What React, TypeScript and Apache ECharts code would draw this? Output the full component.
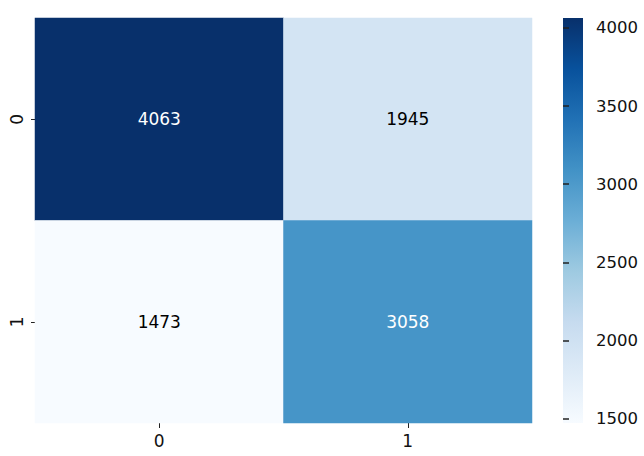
import React, { useEffect, useRef } from "react";
import * as echarts from "echarts";

const xCategories = ["0", "1"];
const yCategories = ["0", "1"];
// [xIndex, yIndex, value]
const cellValues: number[][] = [
  [0, 0, 4063],
  [1, 0, 1945],
  [0, 1, 1473],
  [1, 1, 3058],
];
const colorbarTicks = [1500, 2000, 2500, 3000, 3500, 4000];
const bluesPalette = [
  "#f7fbff",
  "#deebf7",
  "#c6dbef",
  "#9ecae1",
  "#6baed6",
  "#4292c6",
  "#2171b5",
  "#08519c",
  "#08306b",
];

const FONT = "DejaVu Sans";

export default function App() {
  const ref = useRef<HTMLDivElement>(null);
  useEffect(() => {
    if (!ref.current) return;
    const chart = echarts.init(ref.current, undefined, { renderer: "svg" });
    const vals = cellValues.map((d) => d[2]);
    const vmin = Math.min(...vals);
    const vmax = Math.max(...vals);

    const gridMain = { left: 35, right: 112, top: 18, bottom: 33 };
    const cbar = { left: 563, width: 20, top: 18, bottom: 33 };

    const data = cellValues.map((d) => {
      const t = (d[2] - vmin) / (vmax - vmin);
      return {
        value: d,
        label: { color: t > 0.5 ? "#ffffff" : "#000000" },
      };
    });

    const gradStops = bluesPalette
      .map((c, i) => ({ offset: 1 - i / (bluesPalette.length - 1), color: c }))
      .reverse();

    chart.setOption({
      animation: false,
      backgroundColor: "#ffffff",
      grid: [
        { ...gridMain, containLabel: false },
        {
          left: cbar.left,
          width: cbar.width,
          top: cbar.top,
          bottom: cbar.bottom,
          show: true,
          borderWidth: 0,
          backgroundColor: new echarts.graphic.LinearGradient(0, 0, 0, 1, gradStops),
        },
      ],
      xAxis: [
        {
          type: "category",
          data: xCategories,
          gridIndex: 0,
          axisLine: { show: false },
          axisTick: { show: true, length: 5, alignWithLabel: true, lineStyle: { color: "#222", width: 1 } },
          axisLabel: { fontFamily: FONT, fontSize: 17, color: "#111", margin: 9 },
          splitLine: { show: false },
        },
        {
          type: "value",
          gridIndex: 1,
          show: false,
        },
      ],
      yAxis: [
        {
          type: "category",
          data: yCategories,
          inverse: true,
          gridIndex: 0,
          axisLine: { show: false },
          axisTick: { show: true, length: 4, alignWithLabel: true, lineStyle: { color: "#222", width: 1 } },
          axisLabel: { fontFamily: FONT, fontSize: 17, color: "#111", rotate: 90, margin: 10 },
          splitLine: { show: false },
        },
        {
          type: "value",
          gridIndex: 1,
          position: "right",
          min: vmin,
          max: vmax,
          axisLine: { show: false },
          splitLine: { show: false },
          axisTick: {
            show: true,
            length: 6,
            customValues: colorbarTicks,
            lineStyle: { color: "#222", width: 1.5 },
          },
          axisLabel: {
            customValues: colorbarTicks,
            formatter: (v: number) => String(v),
            fontFamily: FONT,
            fontSize: 16.5,
            color: "#111",
            margin: 13,
          },
        },
      ],
      visualMap: {
        show: false,
        type: "continuous",
        min: vmin,
        max: vmax,
        dimension: 2,
        seriesIndex: 0,
        inRange: { color: bluesPalette },
      },
      series: [
        {
          type: "heatmap",
          xAxisIndex: 0,
          yAxisIndex: 0,
          data,
          label: {
            show: true,
            fontFamily: FONT,
            fontSize: 17,
            formatter: (p: any) => String(p.value[2]),
          },
          itemStyle: { borderWidth: 0 },
          emphasis: { disabled: true },
        },
      ],
    });
    return () => chart.dispose();
  }, []);
  return <div ref={ref} style={{ width: 644, height: 456, position: "absolute", left: 0, top: 0 }} />;
}
